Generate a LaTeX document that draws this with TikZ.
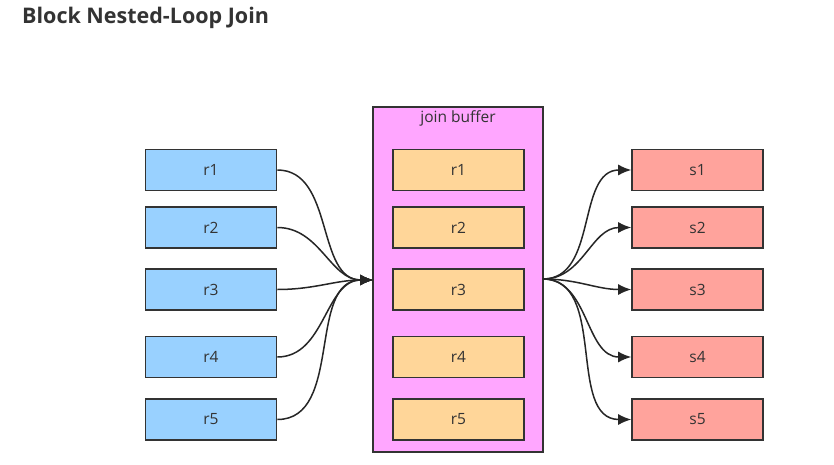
\documentclass[tikz,border=0pt]{standalone}
\usepackage{fontspec}
\setmainfont{Open Sans}
\usetikzlibrary{arrows.meta}
\definecolor{rblue}{HTML}{99D1FF}
\definecolor{rorange}{HTML}{FFD699}
\definecolor{rpink}{HTML}{FFA6FF}
\definecolor{rsalmon}{HTML}{FFA39C}
\definecolor{rborder}{HTML}{333333}
\definecolor{rtext}{HTML}{333333}
\tikzset{
  rec/.style={draw=rborder, line width=1.6pt, minimum width=131pt, minimum height=41pt, inner sep=0pt, text=rtext, font=\fontsize{15.5}{18}\selectfont},
  leftbox/.style={rec, fill=rblue},
  midbox/.style={rec, fill=rorange},
  rightbox/.style={rec, fill=rsalmon},
  bufbox/.style={draw=rborder, line width=1.6pt, fill=rpink, minimum width=170pt, minimum height=345pt, inner sep=0pt},
  conn/.style={draw=black!85, line width=1.5pt, -{Latex[length=13pt,width=11pt]}},
}
\begin{document}
\begin{tikzpicture}[x=1pt,y=-1pt]
\useasboundingbox[fill=white] (0,0) rectangle (834,465);
\node[anchor=west, font=\fontsize{21.5}{24}\selectfont\bfseries, text=rtext, inner sep=0pt] (title) at (22,18) {Block Nested-Loop Join};

\node[bufbox] (buf) at (458,279.5) {};
\node[text=rtext, font=\fontsize{15.5}{18}\selectfont, inner sep=0pt] (buflabel) at (458,118) {join buffer};

\foreach \i/\y in {1/170,2/227.5,3/289.5,4/357,5/419.5}{
  \node[leftbox] (l\i) at (211,\y) {r\i};
  \node[midbox] (m\i) at (458.5,\y) {r\i};
  \node[rightbox] (s\i) at (697.5,\y) {s\i};
}
\coordinate (bin) at (373,280);
\coordinate (bout) at (543,279);
\foreach \i in {1,...,5}{
  \draw[conn] (l\i.east) to[out=0,in=180] (bin);
  \draw[conn] (bout) to[out=0,in=180] (s\i.west);
}
\end{tikzpicture}
\end{document}
